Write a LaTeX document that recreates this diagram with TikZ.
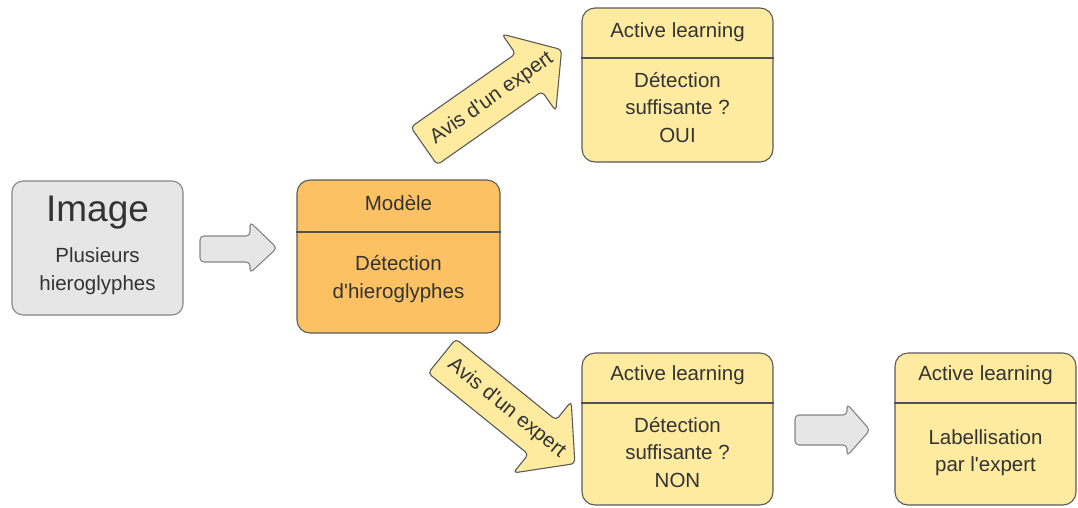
\documentclass[tikz,border=0pt]{standalone}
\usepackage{fontspec}
\setmainfont{Liberation Sans}
\definecolor{grayfill}{HTML}{E6E6E6}
\definecolor{grayline}{HTML}{858585}
\definecolor{orangefill}{HTML}{FCC162}
\definecolor{yellowfill}{HTML}{FEEBA0}
\definecolor{boxline}{HTML}{5A5A5A}
\definecolor{txtcol}{HTML}{333333}
\newcommand{\apos}{\textquotesingle}
\begin{document}
\begin{tikzpicture}[x=1pt,y=-1pt,
  gbox/.style={draw=grayline,fill=grayfill,line width=1.1pt,rounded corners=11pt,inner sep=0pt},
  obox/.style={draw=boxline,fill=orangefill,line width=1.1pt,rounded corners=13pt,inner sep=0pt},
  ybox/.style={draw=boxline,fill=yellowfill,line width=1.1pt,rounded corners=13pt,inner sep=0pt},
  div/.style={draw=boxline!90!black,line width=1.2pt},
  txt/.style={text=txtcol,align=center,font=\fontsize{20.5}{27.5}\selectfont,inner sep=0pt},
  bigtxt/.style={text=txtcol,font=\fontsize{37}{40}\selectfont,inner sep=0pt},
  garrow/.style={draw=grayline,fill=grayfill,line width=1.1pt,rounded corners=4pt},
  yarrow/.style={draw=boxline,fill=yellowfill,line width=1.1pt,rounded corners=4pt},
]
\useasboundingbox (0,0) rectangle (1078,507);

% Image box
\node[gbox,minimum width=171pt,minimum height=134pt] (img) at (97.5,248) {};
\node[bigtxt] (imgt) at (97.5,213) {Image};
\node[txt] (imgb) at (97.5,271) {Plusieurs\\hieroglyphes};

% gray arrow 1
\draw[garrow] (200,236) -- (250,236) -- (250,222) -- (277,248) -- (250,273) -- (250,262) -- (200,262) -- cycle;

% Modele box
\node[obox,minimum width=203pt,minimum height=153pt] (mod) at (398.5,256.5) {};
\draw[div] (mod.west |- 0,232) -- (mod.east |- 0,232);
\node[txt] (modh) at (398.5,203) {Modèle};
\node[txt] (modb) at (398.5,279) {Détection\\d\apos hieroglyphes};

% top expert arrow
\begin{scope}[shift={(424,146)},rotate=35]
\draw[yarrow] (0,-23) -- (128,-23) -- (128,-47) -- (168,0) -- (128,47) -- (128,23) -- (0,23) -- cycle;
\node[txt,rotate=35] (av1) at (83,0) {Avis d\apos un expert};
\end{scope}

% bottom expert arrow
\begin{scope}[shift={(442,356)},rotate=-39]
\draw[yarrow] (0,-22) -- (129,-22) -- (129,-46) -- (171,0) -- (129,46) -- (129,22) -- (0,22) -- cycle;
\node[txt,rotate=-39] (av2) at (83,0) {Avis d\apos un expert};
\end{scope}

% top active learning
\node[ybox,minimum width=191pt,minimum height=154pt] (al1) at (677.5,85) {};
\draw[div] (al1.west |- 0,58) -- (al1.east |- 0,58);
\node[txt] (al1h) at (677.5,32) {Active learning};
\node[txt] (al1b) at (677.5,107.5) {Détection\\suffisante ?\\OUI};

% bottom active learning
\node[ybox,minimum width=191pt,minimum height=152pt] (al2) at (677.5,429) {};
\draw[div] (al2.west |- 0,403) -- (al2.east |- 0,403);
\node[txt] (al2h) at (677.5,375) {Active learning};
\node[txt] (al2b) at (677.5,452.5) {Détection\\suffisante ?\\NON};

% gray arrow 2
\draw[garrow] (795,415) -- (847,415) -- (847,404) -- (870,430) -- (847,456) -- (847,445) -- (795,445) -- cycle;

% right active learning
\node[ybox,minimum width=181pt,minimum height=152pt] (al3) at (985.5,429) {};
\draw[div] (al3.west |- 0,403) -- (al3.east |- 0,403);
\node[txt] (al3h) at (985.5,375) {Active learning};
\node[txt] (al3b) at (985.5,452.5) {Labellisation\\par l\apos expert};
\end{tikzpicture}
\end{document}
